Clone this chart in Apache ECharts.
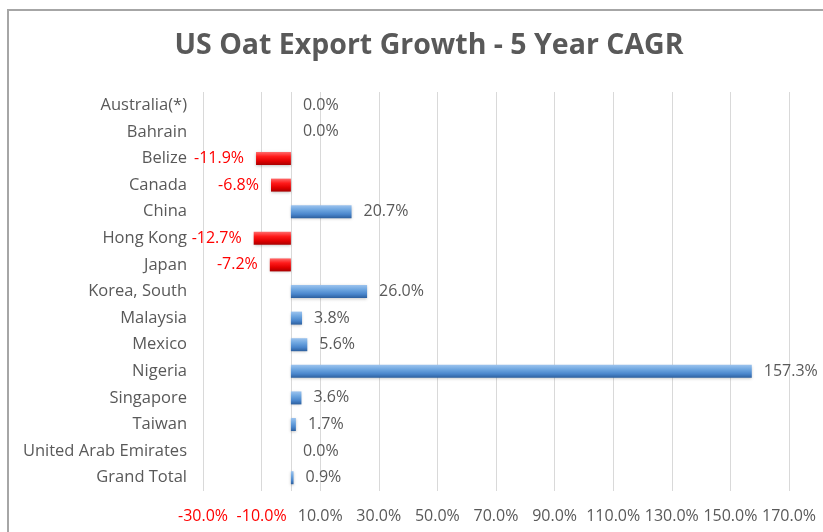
<!DOCTYPE html>
<html>
<head>
<meta charset="utf-8">
<script src="https://cdn.jsdelivr.net/npm/echarts@6/dist/echarts.min.js"></script>
<style>
html,body{margin:0;padding:0;background:#fff;}
#chart{width:823px;height:532px;}
</style>
</head>
<body>
<div id="chart"></div>
<script>
const categories = ['Australia(*)','Bahrain','Belize','Canada','China','Hong Kong','Japan','Korea, South','Malaysia','Mexico','Nigeria','Singapore','Taiwan','United Arab Emirates','Grand Total'];
const cagrValues = [0.0, 0.0, -11.9, -6.8, 20.7, -12.7, -7.2, 26.0, 3.8, 5.6, 157.3, 3.6, 1.7, 0.0, 0.9];
const axisMin = -30, axisMax = 170, labelStep = 20, tickStep = 10;

const blueGrad = new echarts.graphic.LinearGradient(0,0,0,1,[
  {offset:0,color:'#9cc3ee'},{offset:0.35,color:'#6ea6e0'},{offset:0.7,color:'#4a86cc'},{offset:1,color:'#2c5f9e'}]);
const redGrad = new echarts.graphic.LinearGradient(0,0,0,1,[
  {offset:0,color:'#ff6a6a'},{offset:0.35,color:'#ff1a1a'},{offset:0.7,color:'#e00000'},{offset:1,color:'#a80000'}]);

const seriesData = cagrValues.map(v => ({
  value: v,
  itemStyle: {color: v < 0 ? redGrad : blueGrad, shadowColor:'rgba(0,0,0,0.25)', shadowBlur:3, shadowOffsetY:1},
  label: {position: v < 0 ? 'left' : 'right', color: v < 0 ? '#ff0000' : '#595959'}
}));

const nTicks = (axisMax - axisMin) / tickStep + 1;
const splitColors = [];
for (let i = 0; i < nTicks; i++) {
  const v = axisMin + i * tickStep;
  splitColors.push(((v - axisMin) % labelStep === 0 || v === 0) ? '#d9d9d9' : 'rgba(0,0,0,0)');
}

const FONT = 'Open Sans';
const chart = echarts.init(document.getElementById('chart'));
chart.setOption({
  animation: false,
  backgroundColor: '#fff',
  graphic: [{type:'rect', shape:{x:8,y:10,width:900,height:600}, style:{fill:'none', stroke:'#a6a6a6', lineWidth:2}, silent:true}],
  title: {
    text: 'US Oat Export Growth - 5 Year CAGR',
    left: 424, top: 26, textAlign: 'center',
    textStyle: {fontFamily:FONT, fontWeight:'bold', fontSize:28.5, color:'#595959'}
  },
  grid: {left: 203, right: 34, top: 92, bottom: 41, containLabel: false},
  xAxis: {
    type: 'value', min: axisMin, max: axisMax, interval: tickStep,
    axisLine: {show:false}, axisTick: {show:false},
    splitLine: {show:true, lineStyle:{color: splitColors, width:1}},
    axisLabel: {
      margin: 17, fontFamily:FONT, fontSize: 16,
      formatter: v => ((v - axisMin) % labelStep === 0) ? (v < 0 ? '{n|' + v.toFixed(1) + '%}' : '{p|' + v.toFixed(1) + '%}') : '',
      rich: {n:{color:'#ff0000', fontFamily:FONT, fontSize:16}, p:{color:'#595959', fontFamily:FONT, fontSize:16}}
    }
  },
  yAxis: {
    type: 'category', data: categories, inverse: true,
    axisLine: {show:false}, axisTick: {show:false}, splitLine:{show:false},
    axisLabel: {margin: 16, fontFamily:FONT, fontSize: 16.5, color:'#595959'}
  },
  series: [{
    type: 'bar', data: seriesData, barWidth: 13,
    label: {show:true, distance: 12, fontFamily:FONT, fontSize:16, formatter: p => p.value.toFixed(1) + '%'}
  }]
});
</script>
</body>
</html>
